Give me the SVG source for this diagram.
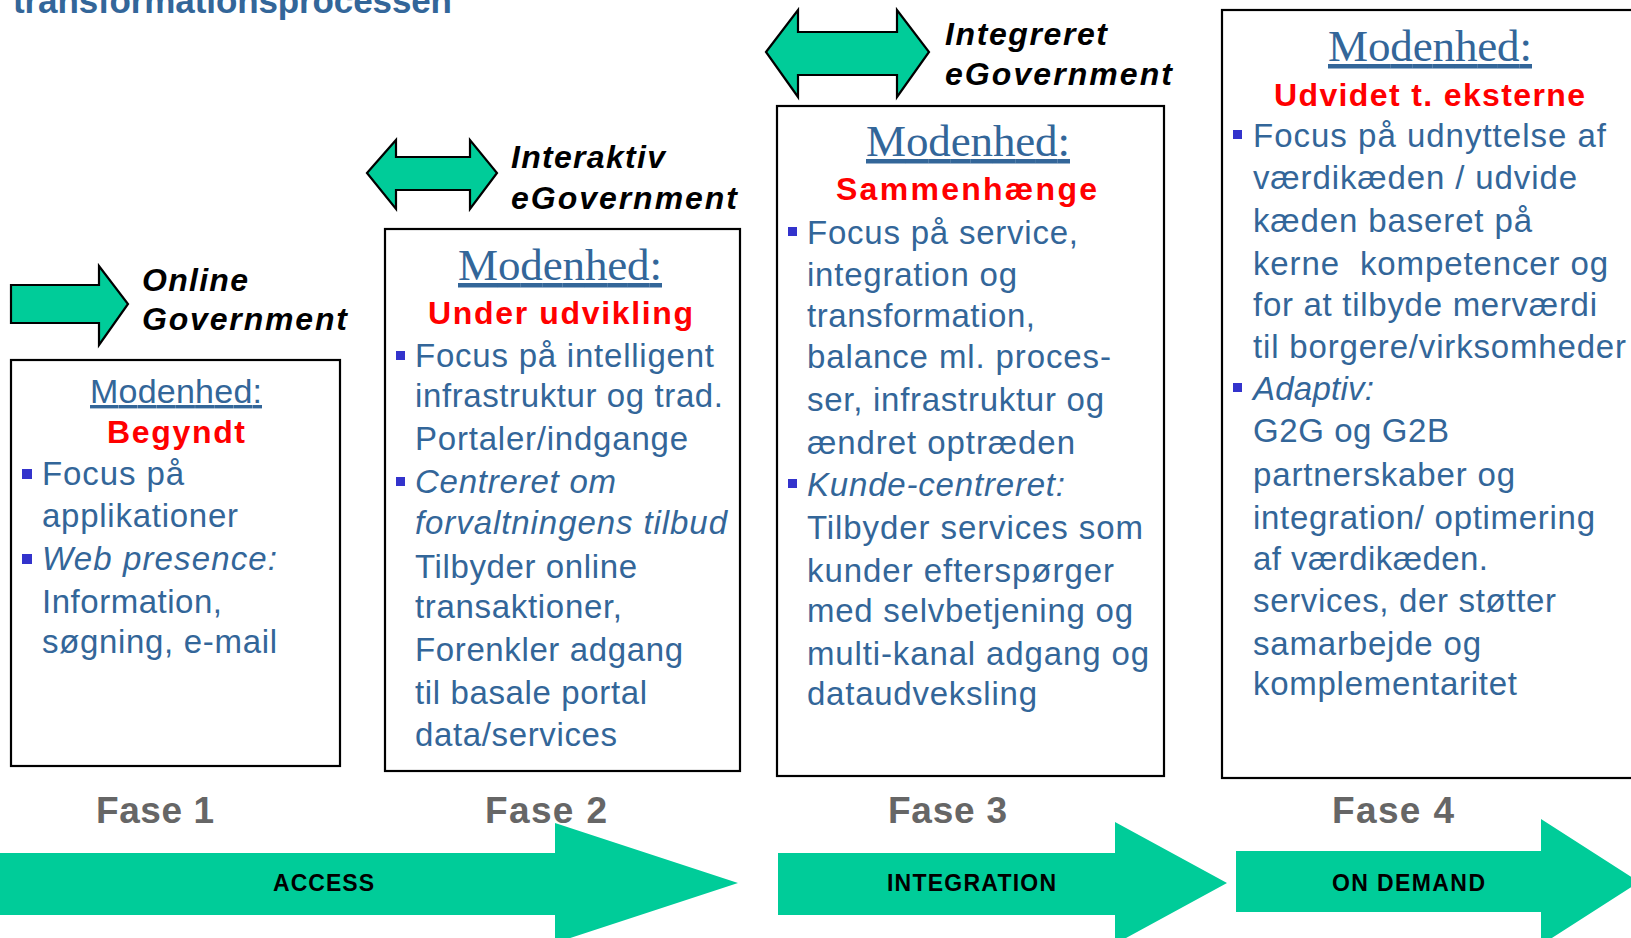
<svg xmlns="http://www.w3.org/2000/svg" width="1631" height="938" viewBox="0 0 1631 938">
<style>
.box{fill:#fff;stroke:#000;stroke-width:2.2}
.garrow{fill:#00CC99;stroke:#000;stroke-width:2.2;stroke-linejoin:miter}
.band{fill:#00CC99}
.hd{font-family:"Liberation Sans",Arial,sans-serif;font-weight:bold;font-style:italic;font-size:32px;fill:#000}
.mod{font-family:"Liberation Serif","Times New Roman",serif;font-size:45px;fill:#336699;text-decoration:underline}
.mods{font-family:"Liberation Sans",Arial,sans-serif;font-size:34px;fill:#336699;text-decoration:underline}
.red{font-family:"Liberation Sans",Arial,sans-serif;font-weight:bold;font-size:32px;fill:#FF0000}
.tx{font-family:"Liberation Sans",Arial,sans-serif;font-size:33px;fill:#336699}
.it{font-style:italic}
.bul{fill:#3333CC}
.fase{font-family:"Liberation Sans",Arial,sans-serif;font-weight:bold;font-size:37px;fill:#666666}
.lbl{font-family:"Liberation Sans",Arial,sans-serif;font-weight:bold;font-size:23px;fill:#000}
.title{font-family:"Liberation Sans",Arial,sans-serif;font-weight:bold;font-size:35px;fill:#336699}
</style>
<rect width="1631" height="938" fill="#fff"/>
<text class="title" x="13" y="13" textLength="439" lengthAdjust="spacing">transformationsprocessen</text>

<g id="connectors">
  <polygon class="garrow" points="11,285 99,285 99,266 128,304 99,345 99,323 11,323"/>
  <polygon class="garrow" points="367,173 396,140 396,157 470,157 470,140 497,173 470,209 470,190 396,190 396,209"/>
  <polygon class="garrow" points="766,52 798,10 798,32 897,32 897,10 929,52 897,97 897,75 798,75 798,97"/>
  <polygon class="band" points="0,853 555,853 555,823 738,883 555,943 555,915 0,915"/>
  <polygon class="band" points="778,853 1115,853 1115,822 1227,883 1115,944 1115,915 778,915"/>
  <polygon class="band" points="1236,851 1541,851 1541,819 1639,882 1541,945 1541,912 1236,912"/>
</g>

<g id="head1">
  <text class="hd" x="142" y="291" textLength="106" lengthAdjust="spacing">Online</text>
  <text class="hd" x="142" y="330" textLength="205" lengthAdjust="spacing">Government</text>
</g>
<g id="head2">
  <text class="hd" x="511" y="168" textLength="154" lengthAdjust="spacing">Interaktiv</text>
  <text class="hd" x="511" y="209" textLength="226" lengthAdjust="spacing">eGovernment</text>
</g>
<g id="head3">
  <text class="hd" x="945" y="45" textLength="162" lengthAdjust="spacing">Integreret</text>
  <text class="hd" x="945" y="85" textLength="227" lengthAdjust="spacing">eGovernment</text>
</g>

<g id="box1">
  <rect class="box" x="11" y="360" width="329" height="406"/>
  <text class="mods" x="90" y="403" textLength="172" lengthAdjust="spacing">Modenhed:</text>
  <text class="red" x="107" y="443" textLength="138" lengthAdjust="spacing">Begyndt</text>
  <rect class="bul" x="22" y="469" width="10" height="10"/>
  <text class="tx" x="42" y="485" textLength="142" lengthAdjust="spacing">Focus på</text>
  <text class="tx" x="42" y="527" textLength="196" lengthAdjust="spacing">applikationer</text>
  <rect class="bul" x="22" y="554" width="10" height="10"/>
  <text class="tx it" x="42" y="570" textLength="235" lengthAdjust="spacing">Web presence:</text>
  <text class="tx" x="42" y="613" textLength="180" lengthAdjust="spacing">Information,</text>
  <text class="tx" x="42" y="653" textLength="235" lengthAdjust="spacing">søgning, e-mail</text>
</g>

<g id="box2">
  <rect class="box" x="385" y="229" width="355" height="542"/>
  <text class="mod" x="458" y="280" textLength="204" lengthAdjust="spacing">Modenhed:</text>
  <text class="red" x="428" y="324" textLength="265" lengthAdjust="spacing">Under udvikling</text>
  <rect class="bul" x="396" y="351" width="9" height="9"/>
  <text class="tx" x="415" y="367" textLength="299" lengthAdjust="spacing">Focus på intelligent</text>
  <text class="tx" x="415" y="407" textLength="308" lengthAdjust="spacing">infrastruktur og trad.</text>
  <text class="tx" x="415" y="450" textLength="273" lengthAdjust="spacing">Portaler/indgange</text>
  <rect class="bul" x="396" y="477" width="9" height="9"/>
  <text class="tx it" x="415" y="493" textLength="201" lengthAdjust="spacing">Centreret om</text>
  <text class="tx it" x="415" y="534" textLength="312" lengthAdjust="spacing">forvaltningens tilbud</text>
  <text class="tx" x="415" y="578" textLength="222" lengthAdjust="spacing">Tilbyder online</text>
  <text class="tx" x="415" y="618" textLength="207" lengthAdjust="spacing">transaktioner,</text>
  <text class="tx" x="415" y="661" textLength="268" lengthAdjust="spacing">Forenkler adgang</text>
  <text class="tx" x="415" y="704" textLength="232" lengthAdjust="spacing">til basale portal</text>
  <text class="tx" x="415" y="746" textLength="202" lengthAdjust="spacing">data/services</text>
</g>

<g id="box3">
  <rect class="box" x="777" y="106" width="387" height="670"/>
  <text class="mod" x="866" y="156" textLength="204" lengthAdjust="spacing">Modenhed:</text>
  <text class="red" x="836" y="200" textLength="261" lengthAdjust="spacing">Sammenhænge</text>
  <rect class="bul" x="788" y="227" width="9" height="9"/>
  <text class="tx" x="807" y="244" textLength="271" lengthAdjust="spacing">Focus på service,</text>
  <text class="tx" x="807" y="286" textLength="210" lengthAdjust="spacing">integration og</text>
  <text class="tx" x="807" y="327" textLength="228" lengthAdjust="spacing">transformation,</text>
  <text class="tx" x="807" y="368" textLength="304" lengthAdjust="spacing">balance ml. proces-</text>
  <text class="tx" x="807" y="411" textLength="297" lengthAdjust="spacing">ser, infrastruktur og</text>
  <text class="tx" x="807" y="454" textLength="268" lengthAdjust="spacing">ændret optræden</text>
  <rect class="bul" x="788" y="479" width="9" height="9"/>
  <text class="tx it" x="807" y="496" textLength="258" lengthAdjust="spacing">Kunde-centreret:</text>
  <text class="tx" x="807" y="539" textLength="336" lengthAdjust="spacing">Tilbyder services som</text>
  <text class="tx" x="807" y="582" textLength="307" lengthAdjust="spacing">kunder efterspørger</text>
  <text class="tx" x="807" y="622" textLength="326" lengthAdjust="spacing">med selvbetjening og</text>
  <text class="tx" x="807" y="665" textLength="342" lengthAdjust="spacing">multi-kanal adgang og</text>
  <text class="tx" x="807" y="705" textLength="230" lengthAdjust="spacing">dataudveksling</text>
</g>

<g id="box4">
  <rect class="box" x="1222" y="10" width="430" height="768"/>
  <text class="mod" x="1328" y="61" textLength="204" lengthAdjust="spacing">Modenhed:</text>
  <text class="red" x="1274" y="106" textLength="311" lengthAdjust="spacing">Udvidet t. eksterne</text>
  <rect class="bul" x="1233" y="130" width="9" height="9"/>
  <text class="tx" x="1253" y="147" textLength="353" lengthAdjust="spacing">Focus på udnyttelse af</text>
  <text class="tx" x="1253" y="189" textLength="324" lengthAdjust="spacing">værdikæden / udvide</text>
  <text class="tx" x="1253" y="232" textLength="279" lengthAdjust="spacing">kæden baseret på</text>
  <text class="tx" x="1253" y="275" textLength="355" lengthAdjust="spacing" xml:space="preserve">kerne  kompetencer og</text>
  <text class="tx" x="1253" y="316" textLength="344" lengthAdjust="spacing">for at tilbyde merværdi</text>
  <text class="tx" x="1253" y="358" textLength="373" lengthAdjust="spacing">til borgere/virksomheder</text>
  <rect class="bul" x="1233" y="383" width="9" height="9"/>
  <text class="tx it" x="1253" y="400" textLength="121" lengthAdjust="spacing">Adaptiv:</text>
  <text class="tx" x="1253" y="442" textLength="196" lengthAdjust="spacing">G2G og G2B</text>
  <text class="tx" x="1253" y="486" textLength="262" lengthAdjust="spacing">partnerskaber og</text>
  <text class="tx" x="1253" y="529" textLength="342" lengthAdjust="spacing">integration/ optimering</text>
  <text class="tx" x="1253" y="570" textLength="235" lengthAdjust="spacing">af værdikæden.</text>
  <text class="tx" x="1253" y="612" textLength="303" lengthAdjust="spacing">services, der støtter</text>
  <text class="tx" x="1253" y="655" textLength="228" lengthAdjust="spacing">samarbejde og</text>
  <text class="tx" x="1253" y="695" textLength="264" lengthAdjust="spacing">komplementaritet</text>
</g>

<g id="phases">
  <text class="fase" x="96" y="823" textLength="118" lengthAdjust="spacing">Fase 1</text>
  <text class="fase" x="485" y="823" textLength="122" lengthAdjust="spacing">Fase 2</text>
  <text class="fase" x="888" y="823" textLength="119" lengthAdjust="spacing">Fase 3</text>
  <text class="fase" x="1332" y="823" textLength="122" lengthAdjust="spacing">Fase 4</text>
  <text class="lbl" x="273" y="891" textLength="101" lengthAdjust="spacing">ACCESS</text>
  <text class="lbl" x="887" y="891" textLength="169" lengthAdjust="spacing">INTEGRATION</text>
  <text class="lbl" x="1332" y="891" textLength="153" lengthAdjust="spacing">ON DEMAND</text>
</g>
</svg>
